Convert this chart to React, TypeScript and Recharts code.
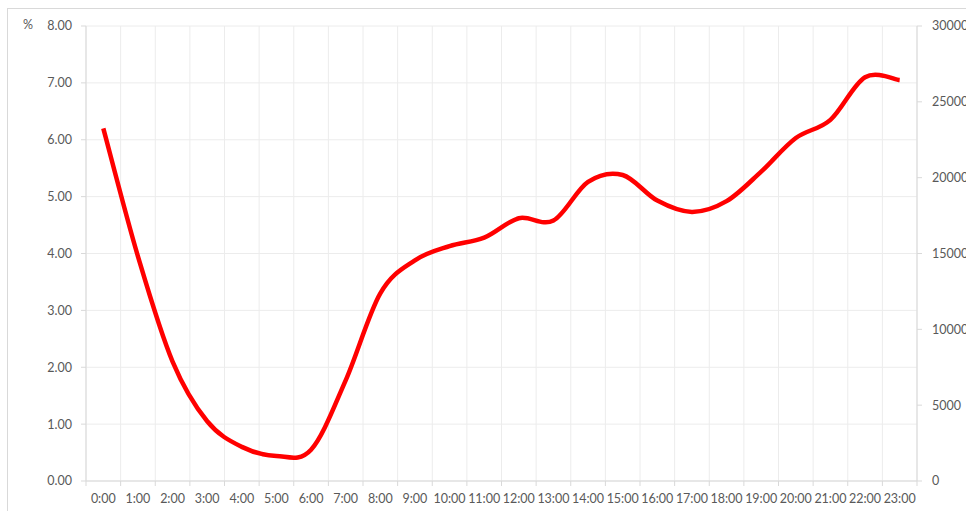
import React from 'react';
import {
  LineChart,
  Line,
  XAxis,
  YAxis,
  CartesianGrid,
} from 'recharts';

const hours = [
  '0:00', '1:00', '2:00', '3:00', '4:00', '5:00', '6:00', '7:00',
  '8:00', '9:00', '10:00', '11:00', '12:00', '13:00', '14:00', '15:00',
  '16:00', '17:00', '18:00', '19:00', '20:00', '21:00', '22:00', '23:00',
];

const share = [
  6.2, 3.95, 2.1, 1.05, 0.6, 0.44, 0.55, 1.77,
  3.3, 3.88, 4.13, 4.28, 4.62, 4.58, 5.26, 5.38,
  4.93, 4.73, 4.92, 5.44, 6.03, 6.35, 7.1, 7.05,
];

const leftTicks = [0, 1, 2, 3, 4, 5, 6, 7, 8];
const rightTicks = [0, 5000, 10000, 15000, 20000, 25000, 30000];

const data = hours.map((h, i) => ({ hour: h, share: share[i] }));

const W = 958;
const H = 502;
const LEFT_W = 78;
const RIGHT_W = 49;
const BAND = (W - LEFT_W - RIGHT_W) / hours.length;

const AXIS = '#d9d9d9';
const GRID = '#ececec';
const TEXT = '#595959';
const FONT = 'Lato, "Open Sans", sans-serif';
const FS = 12.5;

// excel-like smoothed line (catmull-rom bezier)
const smooth = (context: any) => {
  let pts: number[][] = [];
  return {
    areaStart() {},
    areaEnd() {},
    lineStart() {
      pts = [];
    },
    point(x: number, y: number) {
      pts.push([+x, +y]);
    },
    lineEnd() {
      if (!pts.length) return;
      context.moveTo(pts[0][0], pts[0][1]);
      const t = 1 / 6;
      for (let i = 0; i < pts.length - 1; i++) {
        const p0 = pts[Math.max(i - 1, 0)];
        const p1 = pts[i];
        const p2 = pts[i + 1];
        const p3 = pts[Math.min(i + 2, pts.length - 1)];
        context.bezierCurveTo(
          p1[0] + (p2[0] - p0[0]) * t,
          p1[1] + (p2[1] - p0[1]) * t,
          p2[0] - (p3[0] - p1[0]) * t,
          p2[1] - (p3[1] - p1[1]) * t,
          p2[0],
          p2[1]
        );
      }
    },
  };
};

const XTick = (props: any) => {
  const { x, y, payload, index } = props;
  const top = y - 13;
  return (
    <g>
      <line x1={x - BAND / 2} x2={x - BAND / 2} y1={top} y2={top + 5} stroke={AXIS} />
      {index === hours.length - 1 && (
        <line x1={x + BAND / 2} x2={x + BAND / 2} y1={top} y2={top + 5} stroke={AXIS} />
      )}
      <text x={x} y={y} dy="0.71em" textAnchor="middle" fill={TEXT} fontSize={FS} fontFamily={FONT}>
        {payload.value}
      </text>
    </g>
  );
};

const percentLabel = (props: any) => {
  const vb = props.viewBox || { y: 17 };
  return (
    <text x={15} y={vb.y - 1} dy="0.355em" fill={TEXT} fontSize={FS} fontFamily={FONT}>
      %
    </text>
  );
};

const App: React.FC = () => {
  return (
    <div
      style={{
        position: 'fixed',
        left: 7,
        top: 8,
        width: W,
        height: H,
        borderTop: `1px solid ${AXIS}`,
        borderLeft: `1px solid ${AXIS}`,
        background: '#fff',
      }}
    >
      <LineChart
        width={W}
        height={H}
        data={data}
        margin={{ top: 17, right: 0, bottom: 0, left: 0 }}
      >
        <CartesianGrid
          yAxisId="left"
          stroke={GRID}
          verticalCoordinatesGenerator={({ offset }: any) =>
            Array.from({ length: hours.length + 1 }, (_, i) => offset.left + i * (offset.width / hours.length))
          }
        />
        <XAxis
          dataKey="hour"
          scale="band"
          interval={0}
          height={30}
          tickSize={5}
          tickMargin={8}
          axisLine={{ stroke: AXIS }}
          tickLine={{ stroke: 'none' }}
          tick={<XTick />}
        />
        <YAxis
          yAxisId="left"
          orientation="left"
          width={LEFT_W}
          domain={[0, 8]}
          ticks={leftTicks}
          tickFormatter={(v: number) => v.toFixed(2)}
          tickSize={5}
          tickMargin={9}
          axisLine={{ stroke: AXIS }}
          tickLine={{ stroke: AXIS }}
          tick={{ fill: TEXT, fontSize: FS, fontFamily: FONT }}
          label={percentLabel}
        />
        <YAxis
          yAxisId="right"
          orientation="right"
          type="number"
          width={RIGHT_W}
          domain={[0, 30000]}
          ticks={rightTicks}
          allowDataOverflow
          tickSize={5}
          tickMargin={10}
          axisLine={{ stroke: AXIS }}
          tickLine={{ stroke: AXIS }}
          tick={{ fill: TEXT, fontSize: FS, fontFamily: FONT, textAnchor: 'start' }}
        />
        <Line
          yAxisId="left"
          dataKey="share"
          type={smooth as any}
          stroke="#ff0000"
          strokeWidth={4.5}
          dot={false}
          activeDot={false}
          isAnimationActive={false}
        />
      </LineChart>
    </div>
  );
};

export default App;
